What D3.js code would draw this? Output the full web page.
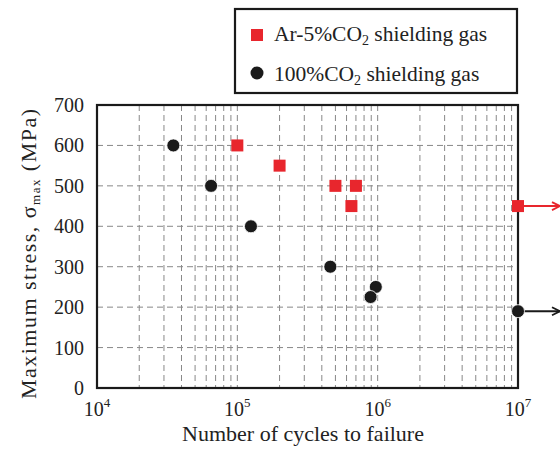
<!DOCTYPE html>
<html>
<head>
<meta charset="utf-8">
<script src="https://cdn.jsdelivr.net/npm/d3@7"></script>
<style>
  body { margin: 0; background: #fff; }
  svg text { font-family: "Liberation Serif", "Times New Roman", serif; fill: #222; }
</style>
</head>
<body>
<svg id="chart" width="560" height="450"></svg>
<script>
// Data
const arCycles   = [1e5, 2e5, 5e5, 7e5, 6.5e5, 1e7];
const arStress   = [600, 550, 500, 500, 450, 450];
const co2Cycles  = [3.5e4, 6.5e4, 1.25e5, 4.6e5, 9.7e5, 8.9e5, 1e7];
const co2Stress  = [600, 500, 400, 300, 250, 225, 190];
const runouts    = [{series: 'ar', cycles: 1e7, stress: 450}, {series: 'co2', cycles: 1e7, stress: 190}];
const yTicks     = [0, 100, 200, 300, 400, 500, 600, 700];
const xExponents = [4, 5, 6, 7];

const red = '#e8262d', black = '#1a1a1a';
const margin = {top: 105, right: 42, bottom: 62, left: 97};
const width = 560 - margin.left - margin.right;
const height = 450 - margin.top - margin.bottom;

const svg = d3.select('#chart').style('font-family', '"Liberation Serif", "Times New Roman", serif');
const g = svg.append('g').attr('transform', `translate(${margin.left},${margin.top})`);

const x = d3.scaleLog().domain([1e4, 1e7]).range([0, width]);
const y = d3.scaleLinear().domain([0, 700]).range([height, 0]);

// grid lines
const minor = [];
for (let e = 4; e < 7; e++) for (let m = 1; m < 10; m++) if (!(m === 1 && e === 4)) minor.push(m * Math.pow(10, e));
g.append('g').selectAll('line').data(minor).join('line')
  .attr('x1', d => x(d)).attr('x2', d => x(d)).attr('y1', 0).attr('y2', height)
  .attr('stroke', '#888').attr('stroke-width', 1).attr('stroke-dasharray', '6,4');
g.append('g').selectAll('line').data(yTicks.slice(1, -1)).join('line')
  .attr('x1', 0).attr('x2', width).attr('y1', d => y(d)).attr('y2', d => y(d))
  .attr('stroke', '#888').attr('stroke-width', 1).attr('stroke-dasharray', '6,4');

// frame
g.append('rect').attr('width', width).attr('height', height)
  .attr('fill', 'none').attr('stroke', black).attr('stroke-width', 2.2);

// y axis labels
g.append('g').selectAll('text').data(yTicks).join('text')
  .attr('x', -13).attr('y', d => y(d)).attr('dy', '0.35em')
  .attr('text-anchor', 'end').attr('font-size', 20).text(d => d);

// x axis labels with superscripts
const xl = g.append('g').selectAll('text').data(xExponents).join('text')
  .attr('x', d => x(Math.pow(10, d))).attr('y', height + 28)
  .attr('text-anchor', 'middle').attr('font-size', 20);
xl.append('tspan').text('10');
xl.append('tspan').attr('font-size', 13).attr('dy', -9).text(d => d);

// axis titles
svg.append('text').attr('x', 303).attr('y', 441)
  .attr('text-anchor', 'middle').attr('font-size', 22).text('Number of cycles to failure');
const yt = svg.append('text')
  .attr('transform', `translate(36,254) rotate(-90)`)
  .attr('text-anchor', 'middle').attr('font-size', 22)
  .attr('textLength', 290).attr('lengthAdjust', 'spacing');
yt.append('tspan').text('Maximum stress, σ');
yt.append('tspan').attr('font-size', 13).attr('dy', 4).text('max');
yt.append('tspan').attr('dy', -4).text(' (MPa)');

// runout arrows
svg.append('defs').selectAll('marker').data([['ar', red], ['co2', black]]).join('marker')
  .attr('id', d => 'arrow-' + d[0]).attr('viewBox', '0 0 10 10').attr('refX', 9).attr('refY', 5)
  .attr('markerWidth', 10).attr('markerHeight', 10).attr('markerUnits', 'userSpaceOnUse').attr('orient', 'auto')
  .append('path').attr('d', 'M1,1 L9,5 L1,9').attr('fill', 'none')
  .attr('stroke', d => d[1]).attr('stroke-width', 1.8);
g.append('g').selectAll('line').data(runouts).join('line')
  .attr('x1', d => x(d.cycles)).attr('x2', d => x(d.cycles) + 42)
  .attr('y1', d => y(d.stress)).attr('y2', d => y(d.stress))
  .attr('stroke', d => d.series === 'ar' ? red : black).attr('stroke-width', 2)
  .attr('marker-end', d => `url(#arrow-${d.series})`);

// points
g.append('g').selectAll('circle').data(co2Cycles).join('circle')
  .attr('cx', d => x(d)).attr('cy', (d, i) => y(co2Stress[i])).attr('r', 6.5)
  .attr('fill', black).attr('stroke', '#fff').attr('stroke-width', 0.8);
g.append('g').selectAll('rect').data(arCycles).join('rect')
  .attr('x', d => x(d) - 6).attr('y', (d, i) => y(arStress[i]) - 6)
  .attr('width', 12).attr('height', 12).attr('fill', red);

// legend
const lg = svg.append('g');
lg.append('rect').attr('x', 235).attr('y', 9).attr('width', 282).attr('height', 84)
  .attr('fill', '#fff').attr('stroke', black).attr('stroke-width', 2.2);
lg.append('rect').attr('x', 251).attr('y', 29).attr('width', 12).attr('height', 12).attr('fill', red);
lg.append('circle').attr('cx', 257).attr('cy', 73).attr('r', 6.5).attr('fill', black);
const t1 = lg.append('text').attr('x', 274).attr('y', 41).attr('font-size', 21.5);
t1.append('tspan').text('Ar-5%CO');
t1.append('tspan').attr('font-size', 14).attr('dy', 4).text('2');
t1.append('tspan').attr('dy', -4).text(' shielding gas');
const t2 = lg.append('text').attr('x', 274).attr('y', 81).attr('font-size', 21.5);
t2.append('tspan').text('100%CO');
t2.append('tspan').attr('font-size', 14).attr('dy', 4).text('2');
t2.append('tspan').attr('dy', -4).text(' shielding gas');
</script>
</body>
</html>
